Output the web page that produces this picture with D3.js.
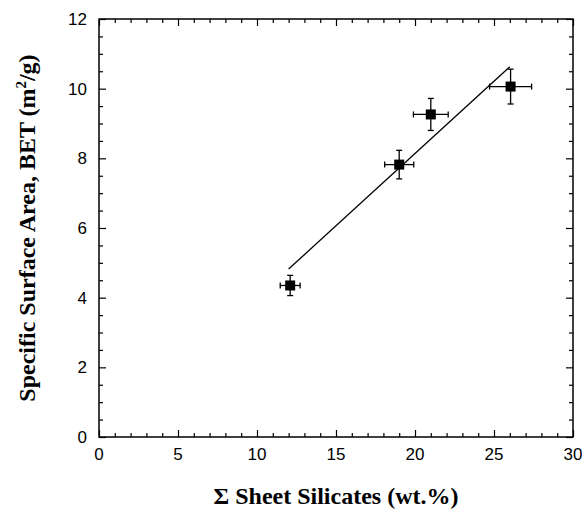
<!DOCTYPE html>
<html>
<head>
<meta charset="utf-8">
<script src="https://cdn.jsdelivr.net/npm/d3@7"></script>
<style>
  body { margin: 0; background: #fff; }
  svg { display: block; }
</style>
</head>
<body>
<svg id="chart"></svg>
<script>
// data
var sheetSilicates = [12.1, 19, 21, 26.05]
var surfaceArea = [4.35, 7.82, 9.26, 10.06]
var xErr = [0.63, 0.92, 1.1, 1.33]
var yErr = [0.29, 0.41, 0.46, 0.5]
var fitX = [12, 26]
var fitY = [4.82, 10.63]
var xTicks = [0, 5, 10, 15, 20, 25, 30]
var yTicks = [0, 2, 4, 6, 8, 10, 12]

var dimensions = {
  width: 582,
  height: 510,
  margin: { top: 19, bottom: 73, right: 9, left: 99 }
}

var svg = d3.select("#chart")
  .attr("width", dimensions.width)
  .attr("height", dimensions.height)

var xScale = d3.scaleLinear()
  .domain([0, 30])
  .range([dimensions.margin.left, dimensions.width - dimensions.margin.right])

var yScale = d3.scaleLinear()
  .domain([0, 12])
  .range([dimensions.height - dimensions.margin.bottom, dimensions.margin.top])

var x0 = xScale(0), x1 = xScale(30), y0 = yScale(0), y1 = yScale(12)

// minor ticks
var xMinor = d3.range(0, 30.01, 1).filter(v => v % 5 != 0)
var yMinor = d3.range(0, 12.01, 0.5).filter(v => v % 2 != 0)

function tickAxis(axis, len) {
  return axis.tickSizeInner(len).tickSizeOuter(0)
}

// bottom
svg.append("g")
  .attr("transform", `translate(0,${y0})`)
  .call(tickAxis(d3.axisTop(xScale).tickValues(xMinor).tickFormat(""), 4))
svg.append("g")
  .attr("transform", `translate(0,${y0})`)
  .call(tickAxis(d3.axisTop(xScale).tickValues(xTicks).tickFormat(""), 7))
// top
svg.append("g")
  .attr("transform", `translate(0,${y1})`)
  .call(tickAxis(d3.axisBottom(xScale).tickValues(xMinor).tickFormat(""), 4))
svg.append("g")
  .attr("transform", `translate(0,${y1})`)
  .call(tickAxis(d3.axisBottom(xScale).tickValues(xTicks).tickFormat(""), 7))
// left
svg.append("g")
  .attr("transform", `translate(${x0},0)`)
  .call(tickAxis(d3.axisRight(yScale).tickValues(yMinor).tickFormat(""), 4))
svg.append("g")
  .attr("transform", `translate(${x0},0)`)
  .call(tickAxis(d3.axisRight(yScale).tickValues(yTicks).tickFormat(""), 7))
// right
svg.append("g")
  .attr("transform", `translate(${x1},0)`)
  .call(tickAxis(d3.axisLeft(yScale).tickValues(yMinor).tickFormat(""), 4))
svg.append("g")
  .attr("transform", `translate(${x1},0)`)
  .call(tickAxis(d3.axisLeft(yScale).tickValues(yTicks).tickFormat(""), 7))

svg.selectAll(".domain").remove()
svg.selectAll(".tick line").attr("stroke", "#000").attr("stroke-width", 1.2)

// frame
svg.append("rect")
  .attr("x", x0).attr("y", y1)
  .attr("width", x1 - x0).attr("height", y0 - y1)
  .attr("fill", "none").attr("stroke", "#000").attr("stroke-width", 1.5)

// tick labels
svg.append("g").selectAll("text")
  .data(xTicks).enter().append("text")
  .attr("x", d => xScale(d))
  .attr("y", y0 + 23)
  .attr("text-anchor", "middle")
  .attr("font-family", "Liberation Sans, Arial, sans-serif")
  .attr("font-size", 17)
  .text(d => d)

svg.append("g").selectAll("text")
  .data(yTicks).enter().append("text")
  .attr("x", x0 - 12)
  .attr("y", d => yScale(d))
  .attr("dy", "0.35em")
  .attr("text-anchor", "end")
  .attr("font-family", "Liberation Sans, Arial, sans-serif")
  .attr("font-size", 17)
  .text(d => d)

// fit line
svg.append("line")
  .attr("x1", xScale(fitX[0])).attr("y1", yScale(fitY[0]))
  .attr("x2", xScale(fitX[1])).attr("y2", yScale(fitY[1]))
  .attr("stroke", "#000").attr("stroke-width", 1.3)

// points with error bars
var points = sheetSilicates.map((d, i) => ({ x: d, y: surfaceArea[i], ex: xErr[i], ey: yErr[i] }))
var cap = 3

var pts = svg.append("g").selectAll("g")
  .data(points).enter().append("g")

pts.append("line")
  .attr("x1", d => xScale(d.x - d.ex)).attr("x2", d => xScale(d.x + d.ex))
  .attr("y1", d => yScale(d.y)).attr("y2", d => yScale(d.y))
  .attr("stroke", "#000").attr("stroke-width", 1.3)
pts.append("line")
  .attr("x1", d => xScale(d.x)).attr("x2", d => xScale(d.x))
  .attr("y1", d => yScale(d.y - d.ey)).attr("y2", d => yScale(d.y + d.ey))
  .attr("stroke", "#000").attr("stroke-width", 1.3)
// caps
pts.each(function(d) {
  var g = d3.select(this)
  ;[d.x - d.ex, d.x + d.ex].forEach(v => {
    g.append("line")
      .attr("x1", xScale(v)).attr("x2", xScale(v))
      .attr("y1", yScale(d.y) - cap).attr("y2", yScale(d.y) + cap)
      .attr("stroke", "#000").attr("stroke-width", 1.3)
  })
  ;[d.y - d.ey, d.y + d.ey].forEach(v => {
    g.append("line")
      .attr("y1", yScale(v)).attr("y2", yScale(v))
      .attr("x1", xScale(d.x) - cap).attr("x2", xScale(d.x) + cap)
      .attr("stroke", "#000").attr("stroke-width", 1.3)
  })
})
pts.append("rect")
  .attr("x", d => xScale(d.x) - 5)
  .attr("y", d => yScale(d.y) - 5)
  .attr("width", 10).attr("height", 10)
  .attr("fill", "#000")

// axis titles
svg.append("text")
  .attr("x", (x0 + x1) / 2)
  .attr("y", 504)
  .attr("text-anchor", "middle")
  .attr("font-family", "Liberation Serif, Times New Roman, serif")
  .attr("font-weight", "bold")
  .attr("font-size", 24)
  .text("Σ Sheet Silicates (wt.%)")

var yTitle = svg.append("text")
  .attr("transform", `translate(35,${(y0 + y1) / 2}) rotate(-90)`)
  .attr("text-anchor", "middle")
  .attr("font-family", "Liberation Serif, Times New Roman, serif")
  .attr("font-weight", "bold")
  .attr("font-size", 24)
yTitle.append("tspan").text("Specific Surface Area, BET (m")
yTitle.append("tspan").attr("font-size", 15).attr("dy", -9).text("2")
yTitle.append("tspan").attr("dy", 9).text("/g)")
</script>
</body>
</html>
